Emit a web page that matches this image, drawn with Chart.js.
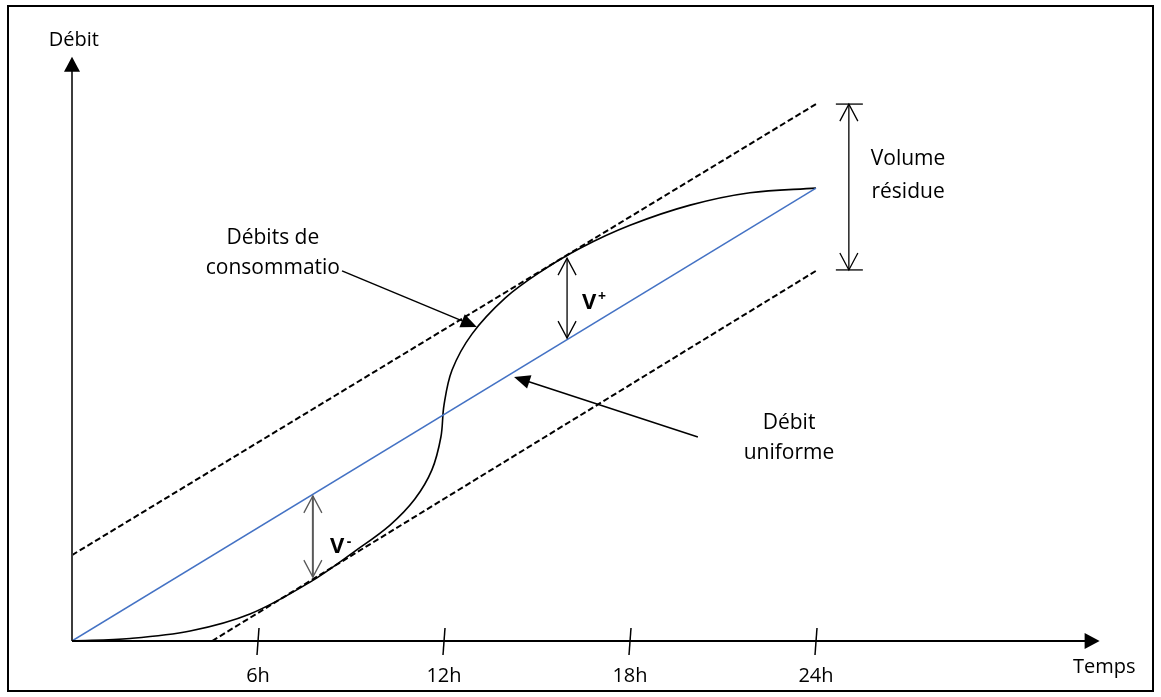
<!DOCTYPE html>
<html lang="fr">
<head>
    <meta charset="UTF-8">
    <title>Débit - régulation</title>
    <script src="https://cdn.jsdelivr.net/npm/chart.js"></script>
    <style>
        html, body {
            margin: 0;
            padding: 0;
            background: #ffffff;
        }
        canvas {
            display: block;
        }
    </style>
</head>
<body>
<canvas id="debitChart" width="1161" height="697"></canvas>
<script>
    // courbe des débits de consommation
    const hours = [0, 1.87, 3.81, 5.74, 7.68, 9.13, 10.26, 11.06, 11.61, 11.9, 12.0, 12.26, 12.9, 13.97, 15.1, 16.39, 18.0, 19.94, 21.87, 24];
    const consumption = [0, 0.08, 0.32, 0.87, 1.9, 2.9, 3.74, 4.58, 5.52, 6.58, 7.61, 8.74, 9.9, 11.06, 11.9, 12.67, 13.41, 14.06, 14.46, 14.61];

    // débit uniforme et les deux tangentes
    const uniformHours = [0, 24];
    const uniformFlow = [0, 14.61];
    const upperHours = [0, 24];
    const upperTangent = [2.77, 17.32];
    const lowerHours = [4.52, 24];
    const lowerTangent = [0, 11.94];

    const tickHours = [6, 12, 18, 24];
    const tickLabels = ['6h', '12h', '18h', '24h'];

    // annotations (en unités du graphe)
    const vMinus = [7.77, 2.06, 4.68];     // x, bas, haut
    const vPlus = [15.97, 9.77, 12.35];
    const residue = [25.06, 11.97, 17.32];
    const consoArrow = [8.71, 11.94, 13.06, 10.13]; // départ -> pointe
    const uniformArrow = [20.19, 6.58, 14.26, 8.52];

    const toPoints = (xs, ys) => xs.map((x, i) => ({x: x, y: ys[i]}));

    const FONT = '"Open Sans", "DejaVu Sans", sans-serif';

    function openHead(ctx, x, y, ang, len, half) {
        const bx = x - Math.cos(ang) * len, by = y - Math.sin(ang) * len;
        const nx = -Math.sin(ang) * half, ny = Math.cos(ang) * half;
        ctx.beginPath();
        ctx.moveTo(bx + nx, by + ny);
        ctx.lineTo(x, y);
        ctx.lineTo(bx - nx, by - ny);
        ctx.stroke();
    }

    function filledHead(ctx, x, y, ang, len, half) {
        const bx = x - Math.cos(ang) * len, by = y - Math.sin(ang) * len;
        const nx = -Math.sin(ang) * half, ny = Math.cos(ang) * half;
        ctx.beginPath();
        ctx.moveTo(x, y);
        ctx.lineTo(bx + nx, by + ny);
        ctx.lineTo(bx - nx, by - ny);
        ctx.closePath();
        ctx.fill();
    }

    const diagram = {
        id: 'diagram',
        afterDatasetsDraw(chart) {
            const ctx = chart.ctx;
            const sx = v => chart.scales.x.getPixelForValue(v);
            const sy = v => chart.scales.y.getPixelForValue(v);
            ctx.save();

            // cadre
            ctx.strokeStyle = '#000';
            ctx.lineWidth = 2;
            ctx.strokeRect(8, 6, 1145, 685);

            // axes
            const ox = sx(0), oy = sy(0);
            ctx.lineWidth = 2;
            ctx.strokeStyle = '#3c3c3c';
            ctx.beginPath();
            ctx.moveTo(ox, oy);
            ctx.lineTo(ox, sy(18.85) + 10);
            ctx.stroke();
            ctx.fillStyle = '#000';
            filledHead(ctx, ox, sy(18.85), -Math.PI / 2, 15, 8);

            ctx.strokeStyle = '#000';
            ctx.beginPath();
            ctx.moveTo(ox, oy);
            ctx.lineTo(sx(33.15) - 10, oy);
            ctx.stroke();
            filledHead(ctx, sx(33.15), oy, 0, 15, 8);

            // graduations
            ctx.lineWidth = 1.5;
            ctx.font = '20px ' + FONT;
            ctx.textAlign = 'center';
            ctx.textBaseline = 'middle';
            tickHours.forEach((h, i) => {
                const x = sx(h);
                ctx.beginPath();
                ctx.moveTo(x + 1, oy - 13);
                ctx.lineTo(x - 1, oy + 14);
                ctx.stroke();
                ctx.fillText(tickLabels[i], x, oy + 35);
            });

            // titres des axes
            ctx.fillText('Débit', sx(0.06), sy(19.39));
            ctx.fillText('Temps', sx(33.3), sy(-0.84));

            // flèches doubles
            function doubleArrow(a, color) {
                const x = sx(a[0]), y1 = sy(a[1]), y2 = sy(a[2]);
                ctx.strokeStyle = color;
                ctx.lineWidth = color === '#000' ? 1.3 : 2;
                ctx.beginPath();
                ctx.moveTo(x, y1);
                ctx.lineTo(x, y2);
                ctx.stroke();
                ctx.lineWidth = 1.3;
                openHead(ctx, x, y2, -Math.PI / 2, 17, 9);
                openHead(ctx, x, y1, Math.PI / 2, 17, 9);
            }
            doubleArrow(vMinus, '#595959');
            doubleArrow(vPlus, '#000');
            doubleArrow(residue, '#000');
            // traits de rappel du volume résidue
            ctx.strokeStyle = '#000';
            ctx.lineWidth = 1.3;
            [residue[1], residue[2]].forEach(v => {
                ctx.beginPath();
                ctx.moveTo(sx(residue[0]) - 13, sy(v));
                ctx.lineTo(sx(residue[0]) + 14, sy(v));
                ctx.stroke();
            });

            // flèches de légende
            function leader(a) {
                const x1 = sx(a[0]), y1 = sy(a[1]), x2 = sx(a[2]), y2 = sy(a[3]);
                const ang = Math.atan2(y2 - y1, x2 - x1);
                ctx.strokeStyle = '#000';
                ctx.lineWidth = 1.5;
                ctx.beginPath();
                ctx.moveTo(x1, y1);
                ctx.lineTo(x2 - Math.cos(ang) * 10, y2 - Math.sin(ang) * 10);
                ctx.stroke();
                ctx.fillStyle = '#000';
                filledHead(ctx, x2, y2, ang, 16, 7);
            }
            leader(consoArrow);
            leader(uniformArrow);

            // textes
            ctx.fillStyle = '#000';
            ctx.font = '21px ' + FONT;
            ctx.fillText('Volume', sx(26.97), sy(15.55));
            ctx.fillText('résidue', sx(26.97), sy(14.48));
            ctx.fillText('Débits de', sx(6.48), sy(13.0));
            ctx.fillText('consommatio', sx(6.48), sy(12.03));
            ctx.fillText('Débit', sx(23.13), sy(7.03));
            ctx.fillText('uniforme', sx(23.13), sy(6.06));

            ctx.font = 'bold 22px ' + FONT;
            ctx.fillText('V', sx(8.55), sy(3.03));
            ctx.fillText('V', sx(16.68), sy(10.9));
            ctx.font = 'bold 14px ' + FONT;
            ctx.fillText('-', sx(8.55) + 12, sy(3.03) - 5);
            ctx.fillText('+', sx(16.68) + 13, sy(10.9) - 6);

            ctx.restore();
        }
    };

    const ctx = document.getElementById('debitChart').getContext('2d');
    new Chart(ctx, {
        type: 'scatter',
        data: {
            datasets: [
                {
                    label: 'Tangente haute',
                    data: toPoints(upperHours, upperTangent),
                    showLine: true,
                    borderColor: '#000',
                    borderWidth: 2,
                    borderDash: [6, 3],
                    pointRadius: 0
                },
                {
                    label: 'Tangente basse',
                    data: toPoints(lowerHours, lowerTangent),
                    showLine: true,
                    borderColor: '#000',
                    borderWidth: 2,
                    borderDash: [6, 3],
                    pointRadius: 0
                },
                {
                    label: 'Débit uniforme',
                    data: toPoints(uniformHours, uniformFlow),
                    showLine: true,
                    borderColor: '#4472c4',
                    borderWidth: 1.5,
                    pointRadius: 0
                },
                {
                    label: 'Débits de consommation',
                    data: toPoints(hours, consumption),
                    showLine: true,
                    borderColor: '#000',
                    borderWidth: 1.6,
                    tension: 0.35,
                    pointRadius: 0
                }
            ]
        },
        options: {
            responsive: false,
            devicePixelRatio: 1,
            animation: false,
            layout: {
                padding: {left: 72, right: 66, top: 52, bottom: 56}
            },
            scales: {
                x: {type: 'linear', min: 0, max: 33, display: false},
                y: {type: 'linear', min: 0, max: 19, display: false}
            },
            plugins: {
                legend: {display: false},
                tooltip: {enabled: false}
            }
        },
        plugins: [diagram]
    });
</script>
</body>
</html>
